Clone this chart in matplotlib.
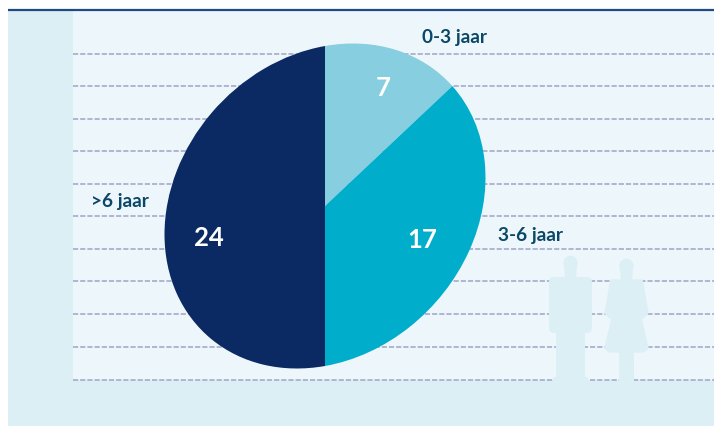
import matplotlib
matplotlib.use('Agg')
import matplotlib.pyplot as plt
from matplotlib.patches import Rectangle, Circle, Polygon, FancyBboxPatch
from matplotlib.transforms import Affine2D

# data
categories = ['0-3 jaar', '3-6 jaar', '>6 jaar']
values = [7, 17, 24]
colors = ['#87CEE0', '#00AECB', '#0B2A63']
grid_rows = [54, 86, 119, 151, 184, 216, 249, 281, 314, 347, 380]

plt.rcParams['font.family'] = ['Lato', 'DejaVu Sans']

PANEL = '#DCEFF5'
INNER = '#EDF6FA'
LABEL = '#0B4766'

fig = plt.figure(figsize=(7.14, 4.26), dpi=100, facecolor='white')
ax = fig.add_axes([0, 0, 1, 1])

wedges, _ = ax.pie(values, colors=colors, startangle=90, counterclock=False)

# axes in image pixels, y going down
ax.set_aspect('auto')
ax.set_xlim(0, 714)
ax.set_ylim(426, 0)
ax.axis('off')

# the pie in the picture is a sheared circle
shear = Affine2D.from_values(160.5, -28.4, 0, -160, 325, 206)
for w in wedges:
    w.set_transform(shear + ax.transData)
    w.set_zorder(4)
    w.set_linewidth(0)

# backgrounds
ax.add_patch(Rectangle((8, 10), 706, 416, fc=PANEL, ec='none', zorder=0))
ax.add_patch(Rectangle((73, 10), 641, 370, fc=INNER, ec='none', zorder=0.5))
ax.plot([8, 714], [10, 10], color='#1F4A86', lw=1.6, zorder=5, solid_capstyle='butt')

ax.hlines(grid_rows, 73, 714, color='#9FA5C8', lw=1.1, linestyles=(0, (3.4, 1.3)), zorder=1)

# man
ax.add_patch(Circle((570.5, 263), 7.2, fc=PANEL, ec='none', zorder=2))
ax.add_patch(Polygon([(564, 265), (577, 265), (576, 279), (565, 279)], closed=True,
                     fc=PANEL, ec='none', zorder=2))
ax.add_patch(FancyBboxPatch((554, 282), 33, 46, boxstyle='round,pad=5,rounding_size=5',
                            fc=PANEL, ec='none', zorder=2))
ax.add_patch(Rectangle((556, 325), 29, 57, fc=PANEL, ec='none', zorder=2))
ax.add_patch(Rectangle((553, 377), 35, 5, fc=PANEL, ec='none', zorder=2))

# woman
ax.add_patch(Circle((626.5, 266), 7.3, fc=PANEL, ec='none', zorder=2))
ax.add_patch(Polygon([(620, 268), (633, 268), (632, 282), (621, 282)], closed=True,
                     fc=PANEL, ec='none', zorder=2))
ax.add_patch(Polygon([(611, 280), (642, 280), (648, 313), (643, 318), (641, 318),
                      (648, 348), (644, 352), (609, 352), (605, 348), (612, 318),
                      (610, 318), (605, 313)], closed=True, fc=PANEL, ec=PANEL, lw=1,
                     joinstyle='round', zorder=2))
ax.add_patch(Rectangle((619, 350), 15, 32, fc=PANEL, ec='none', zorder=2))

# labels
ax.text(455, 37, categories[0], color=LABEL, fontsize=13.7, fontweight='bold',
        ha='center', va='center', zorder=6)
ax.text(531, 235, categories[1], color=LABEL, fontsize=13.7, fontweight='bold',
        ha='center', va='center', zorder=6)
ax.text(120, 201, categories[2], color=LABEL, fontsize=13.7, fontweight='bold',
        ha='center', va='center', zorder=6)

ax.text(383, 88, str(values[0]), color='white', fontsize=18.5, fontweight='bold',
        ha='center', va='center', zorder=6)
ax.text(422, 240, str(values[1]), color='white', fontsize=18.5, fontweight='bold',
        ha='center', va='center', zorder=6)
ax.text(209, 238, str(values[2]), color='white', fontsize=18.5, fontweight='bold',
        ha='center', va='center', zorder=6)

fig.savefig('out.png', dpi=100, facecolor='white')
